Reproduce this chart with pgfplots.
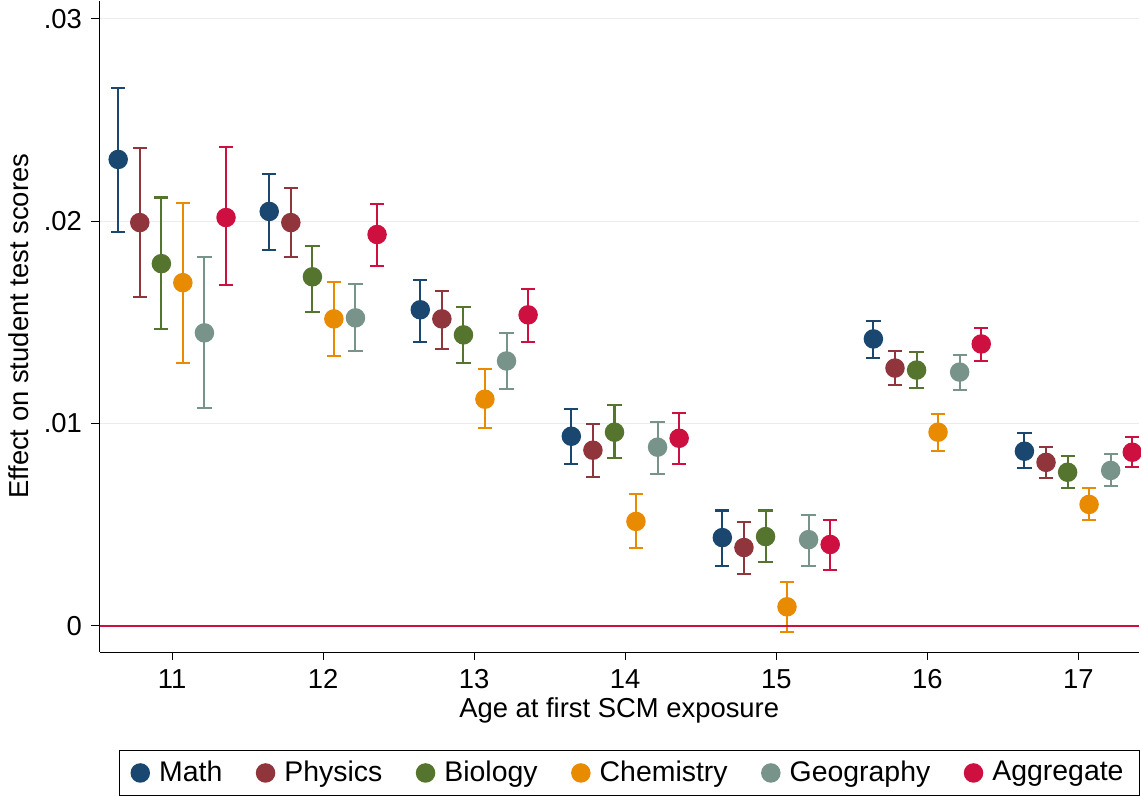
\documentclass[border=0pt]{standalone}
\usepackage{pgfplots}
\usepackage{pgfplotstable}
\pgfplotsset{compat=1.18}
\usepackage{fontspec}
\setmainfont{Liberation Sans}
\definecolor{cMath}{RGB}{26,71,111}
\definecolor{cPhys}{RGB}{144,53,59}
\definecolor{cBio}{RGB}{85,117,47}
\definecolor{cChem}{RGB}{232,139,0}
\definecolor{cGeo}{RGB}{120,148,138}
\definecolor{cAgg}{RGB}{205,16,64}
\pgfplotstableread{
age y lo hi
11 .02305 .01948 .02657
12 .02048 .01859 .02231
13 .01562 .01403 .01710
14 .00937 .00798 .01071
15 .00436 .00297 .00570
16 .01418 .01324 .01507
17 .00863 .00778 .00952
}\tMath
\pgfplotstableread{
age y lo hi
11 .01993 .01626 .02360
12 .01993 .01824 .02162
13 .01517 .01368 .01656
14 .00868 .00734 .00997
15 .00387 .00258 .00511
16 .01274 .01190 .01358
17 .00808 .00729 .00883
}\tPhys
\pgfplotstableread{
age y lo hi
11 .01790 .01468 .02117
12 .01725 .01552 .01879
13 .01438 .01299 .01577
14 .00957 .00828 .01091
15 .00441 .00317 .00570
16 .01264 .01175 .01354
17 .00759 .00679 .00838
}\tBio
\pgfplotstableread{
age y lo hi
11 .01696 .01299 .02092
12 .01517 .01334 .01701
13 .01120 .00977 .01269
14 .00516 .00387 .00650
15 .00094 -.00030 .00218
16 .00957 .00863 .01046
17 .00600 .00521 .00679
}\tChem
\pgfplotstableread{
age y lo hi
11 .01448 .01076 .01824
12 .01522 .01358 .01691
13 .01309 .01170 .01448
14 .00883 .00749 .01006
15 .00426 .00297 .00550
16 .01254 .01165 .01339
17 .00768 .00689 .00848
}\tGeo
\pgfplotstableread{
age y lo hi
11 .02018 .01686 .02365
12 .01934 .01780 .02087
13 .01537 .01403 .01666
14 .00927 .00798 .01051
15 .00402 .00278 .00521
16 .01393 .01309 .01472
17 .00858 .00783 .00932
}\tAgg
\begin{document}
\fontsize{13.5}{16}\selectfont
\begin{tikzpicture}
\begin{axis}[
  scale only axis, width=512pt, height=321pt,
  xmin=10.52, xmax=17.40, ymin=-0.0013, ymax=0.0309,
  axis x line*=bottom, axis y line*=left,
  xtick={11,...,17}, ytick={0,0.01,0.02,0.03},
  yticklabels={0,.01,.02,.03},
  scaled y ticks=false,
  ymajorgrids, grid style={gray!15, line width=0.6pt},
  tick style={black, line width=0.6pt}, tick align=outside,
  major tick length=4pt,
  axis line style={line width=0.6pt},
  tick label style={font=\fontsize{13.5}{16}\selectfont},
  /pgf/number format/assume math mode=true,
  xlabel={Age at first SCM exposure}, ylabel={Effect on student test scores},
  label style={font=\fontsize{13.5}{16}\selectfont},
  xlabel style={yshift=5pt}, ylabel style={yshift=-2pt},
  legend style={at={(0.51,-0.15)}, anchor=north, legend columns=6,
    draw=black, line width=0.6pt, font=\fontsize{14}{16}\selectfont,
    inner ysep=3pt, inner xsep=6pt,
    /tikz/every odd column/.append style={column sep=3pt},
    /tikz/every even column/.append style={column sep=15pt}},
  legend cell align=left,
  every axis plot/.append style={only marks, mark=*, mark size=4.3pt, line width=1pt,
    error bars/y dir=both, error bars/y explicit,
    error bars/error mark options={rotate=90, mark size=3.5pt, line width=1pt},
    error bars/error bar style={line width=1pt}},
]
\addplot[color=cMath] table[x expr=\thisrow{age}-0.357, y=y,
  y error plus expr=\thisrow{hi}-\thisrow{y}, y error minus expr=\thisrow{y}-\thisrow{lo}] {\tMath};
\addlegendentry{Math}
\addplot[color=cPhys] table[x expr=\thisrow{age}-0.214, y=y,
  y error plus expr=\thisrow{hi}-\thisrow{y}, y error minus expr=\thisrow{y}-\thisrow{lo}] {\tPhys};
\addlegendentry{Physics}
\addplot[color=cBio] table[x expr=\thisrow{age}-0.071, y=y,
  y error plus expr=\thisrow{hi}-\thisrow{y}, y error minus expr=\thisrow{y}-\thisrow{lo}] {\tBio};
\addlegendentry{Biology}
\addplot[color=cChem] table[x expr=\thisrow{age}+0.071, y=y,
  y error plus expr=\thisrow{hi}-\thisrow{y}, y error minus expr=\thisrow{y}-\thisrow{lo}] {\tChem};
\addlegendentry{Chemistry}
\addplot[color=cGeo] table[x expr=\thisrow{age}+0.214, y=y,
  y error plus expr=\thisrow{hi}-\thisrow{y}, y error minus expr=\thisrow{y}-\thisrow{lo}] {\tGeo};
\addlegendentry{Geography}
\addplot[color=cAgg] table[x expr=\thisrow{age}+0.357, y=y,
  y error plus expr=\thisrow{hi}-\thisrow{y}, y error minus expr=\thisrow{y}-\thisrow{lo}] {\tAgg};
\addlegendentry{Aggregate}
\draw[cAgg, line width=1pt] (axis cs:10.52,0) -- (axis cs:17.40,0);
\end{axis}
\end{tikzpicture}
\end{document}
